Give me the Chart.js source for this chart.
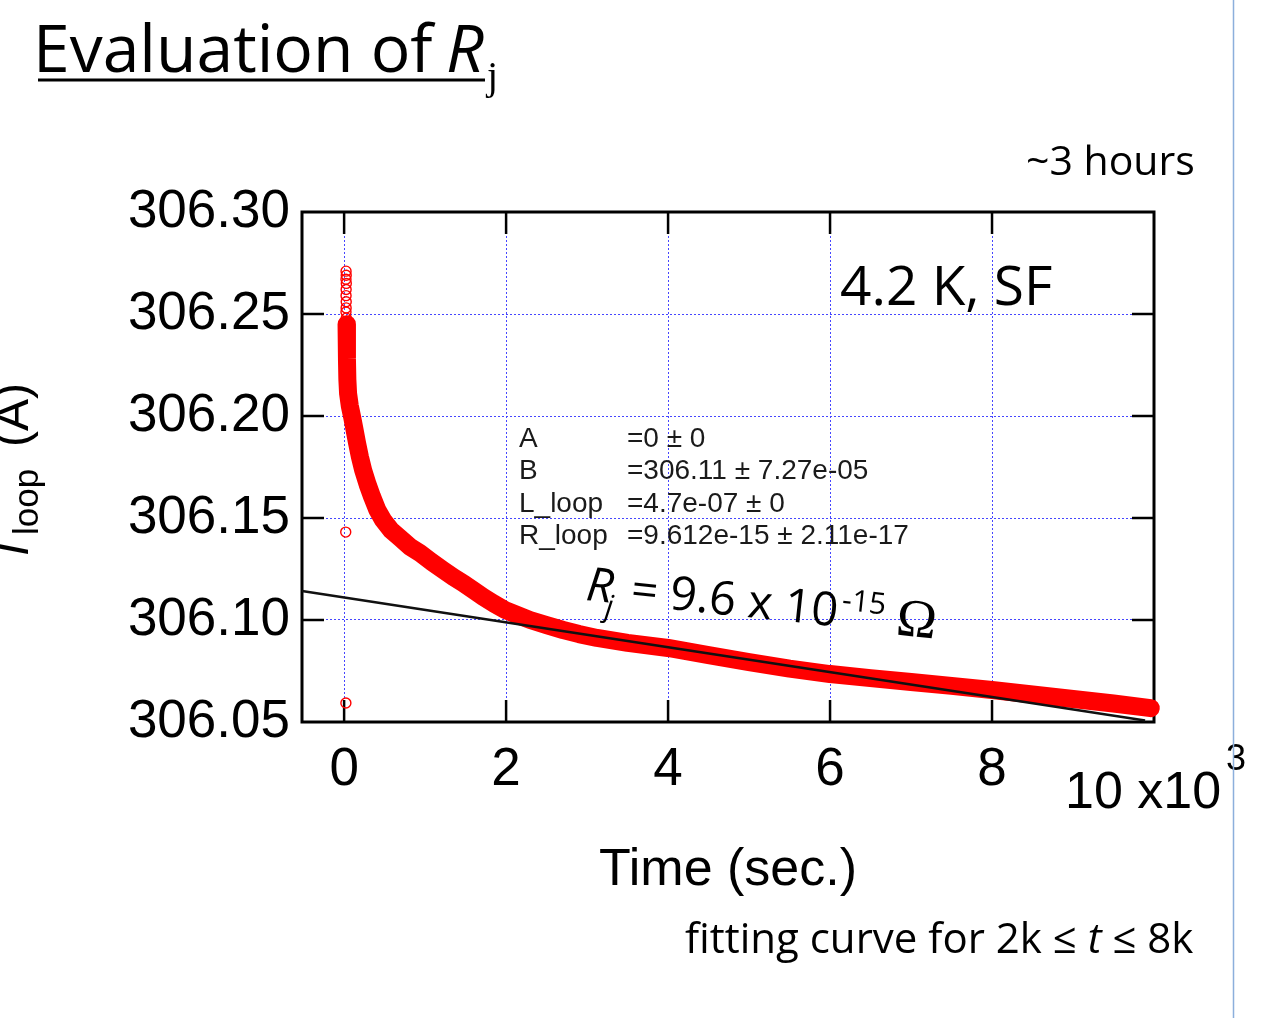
<!DOCTYPE html>
<html>
<head>
<meta charset="utf-8">
<script src="https://cdn.jsdelivr.net/npm/chart.js@4.4.1/dist/chart.umd.min.js"></script>
<style>
  html, body { margin: 0; padding: 0; background: #fff; }
  canvas { display: block; }
</style>
</head>
<body>
<canvas id="c" width="1261" height="1018"></canvas>
<script>
// ---------- data ----------
const timeSec = [30, 35, 40, 49, 70, 99, 130, 160, 195, 235, 290, 346, 410, 481, 580, 691, 810, 938, 1080, 1222, 1350, 1469, 1600, 1716, 1850, 1988, 2150, 2296, 2500, 2704, 2900, 3123, 3500, 4000, 4500, 5000, 5500, 6000, 6500, 7000, 7500, 8000, 8500, 9000, 9500, 9960];
const iLoop = [306.245, 306.228, 306.218, 306.211, 306.205, 306.1995, 306.193, 306.1867, 306.180, 306.1735, 306.1665, 306.1603, 306.154, 306.149, 306.144, 306.1402, 306.136, 306.1328, 306.1285, 306.1245, 306.121, 306.1181, 306.1145, 306.1113, 306.108, 306.1049, 306.1023, 306.1000, 306.0975, 306.0951, 306.0931, 306.0912, 306.0888, 306.0863, 306.0828, 306.0794, 306.0762, 306.0735, 306.0715, 306.0696, 306.0677, 306.0657, 306.0635, 306.0613, 306.0591, 306.0568];
const spikeT = [24, 26, 23, 27, 25, 24, 26, 25, 23, 27, 25, 24, 10, 12];
const spikeV = [306.271, 306.269, 306.267, 306.265, 306.262, 306.259, 306.256, 306.253, 306.251, 306.248, 306.246, 306.243, 306.236, 306.222];
const outlierT = [20, 22];
const outlierV = [306.1431, 306.0593];
const fitT = [-520, 9890];
const fitV = [306.1142, 306.0507];
const xTickValues = [0, 2000, 4000, 6000, 8000, 10000];
const xTickLabels = ['0', '2', '4', '6', '8', ''];
const yTickValues = [306.05, 306.10, 306.15, 306.20, 306.25, 306.30];
const yTickLabels = ['306.05', '306.10', '306.15', '306.20', '306.25', '306.30'];
const X_MIN = -520, X_MAX = 10000, Y_MIN = 306.05, Y_MAX = 306.30;
const fitParams = [
  ['A', '=0 \u00b1 0'],
  ['B', '=306.11 \u00b1 7.27e-05'],
  ['L_loop', '=4.7e-07 \u00b1 0'],
  ['R_loop', '=9.612e-15 \u00b1 2.11e-17']
];

// ---------- styling ----------
const SANS = '"Liberation Sans", Arial, sans-serif';
const SLIDE = '"Open Sans", sans-serif';
const SERIF = '"Liberation Serif", "DejaVu Serif", serif';
const GRID = 'rgb(70,70,255)';
const RED = '#ff0000';

const pts = (xs, ys) => xs.map((x, i) => ({ x: x, y: ys[i] }));

function put(ctx, s, x, y, font, color) {
  ctx.font = font;
  ctx.fillStyle = color || '#000';
  ctx.fillText(s, x, y);
  return ctx.measureText(s).width;
}

const deco = {
  id: 'deco',
  beforeDraw(chart) {
    const ctx = chart.ctx;
    ctx.save();
    ctx.fillStyle = '#fff';
    ctx.fillRect(0, 0, chart.width, chart.height);
    ctx.restore();
  },
  beforeDatasetsDraw(chart) {
    const { ctx, chartArea: a, scales: { x, y } } = chart;
    ctx.save();
    ctx.strokeStyle = '#000';
    ctx.lineWidth = 3;
    ctx.strokeRect(a.left, a.top, a.right - a.left, a.bottom - a.top);
    ctx.lineWidth = 2.5;
    const TL = 22;
    const line = (x1, y1, x2, y2) => { ctx.beginPath(); ctx.moveTo(x1, y1); ctx.lineTo(x2, y2); ctx.stroke(); };
    x.ticks.forEach(t => {
      if (t.value <= x.min || t.value >= x.max) return;
      const px = x.getPixelForValue(t.value);
      line(px, a.bottom, px, a.bottom - TL);
      line(px, a.top, px, a.top + TL);
    });
    y.ticks.forEach(t => {
      if (t.value <= y.min + 1e-9 || t.value >= y.max - 1e-9) return;
      const py = y.getPixelForValue(t.value);
      line(a.left, py, a.left + TL, py);
      line(a.right, py, a.right - TL, py);
    });
    ctx.restore();
  },
  afterDraw(chart) {
    const { ctx } = chart;
    ctx.save();
    ctx.textAlign = 'left';
    ctx.textBaseline = 'alphabetic';

    // slide title
    put(ctx, 'Evaluation of', 33, 72, '66px ' + SLIDE);
    put(ctx, 'R', 446, 72, 'italic 66px ' + SLIDE);
    put(ctx, 'j', 487, 89, '40px ' + SERIF);
    ctx.strokeStyle = '#000';
    ctx.lineWidth = 3;
    ctx.beginPath(); ctx.moveTo(38, 80); ctx.lineTo(485, 80); ctx.stroke();

    // notes
    put(ctx, '~3 hours', 1026, 175, '41px ' + SLIDE);
    put(ctx, '4.2 K, SF', 840, 305, '55px ' + SLIDE);
    let fx = 685;
    fx += put(ctx, 'fitting curve for 2k \u2264 ', fx, 953, '42px ' + SLIDE);
    fx += put(ctx, 't', fx, 953, 'italic 42px ' + SLIDE);
    put(ctx, ' \u2264 8k', fx, 953, '42px ' + SLIDE);

    // fit parameter box
    const rowsY = [447, 479, 512, 544];
    fitParams.forEach((r, i) => {
      put(ctx, r[0], 519, rowsY[i], '28px ' + SANS, '#1a1a1a');
      put(ctx, r[1], 627, rowsY[i], '28px ' + SANS, '#1a1a1a');
    });

    // R_j annotation (slightly tilted)
    ctx.save();
    ctx.translate(585, 600);
    ctx.rotate(6 * Math.PI / 180);
    put(ctx, 'R', 0, 0, 'italic 47px ' + SLIDE);
    put(ctx, 'j', 21, 14, 'italic 30px ' + SLIDE);
    put(ctx, '= 9.6 x 10', 45, 0, '47px ' + SLIDE);
    put(ctx, '-15', 256, -17, '30px ' + SLIDE);
    put(ctx, '\u03a9', 312, 2, '54px ' + SERIF);
    ctx.restore();

    // x axis multiplier
    put(ctx, '10 x10', 1065, 808, '52px ' + SANS);
    put(ctx, '3', 1226, 770, '36px ' + SANS);

    // y axis title (rotated)
    ctx.save();
    ctx.translate(28, 556);
    ctx.rotate(-Math.PI / 2);
    put(ctx, 'I', 0, 0, 'italic 48px ' + SANS);
    put(ctx, 'loop', 21, 10, '35px ' + SANS);
    put(ctx, '(A)', 109, 0, '48px ' + SANS);
    ctx.restore();

    // slide divider line
    ctx.strokeStyle = 'rgb(140,175,220)';
    ctx.lineWidth = 1.5;
    ctx.beginPath(); ctx.moveTo(1233.5, 0); ctx.lineTo(1233.5, chart.height); ctx.stroke();
    ctx.restore();
  }
};

new Chart(document.getElementById('c'), {
  type: 'scatter',
  data: {
    datasets: [
      {
        label: 'fit',
        data: pts(fitT, fitV),
        showLine: true,
        borderColor: '#111',
        borderWidth: 2.5,
        pointRadius: 0,
        order: 0,
        clip: false
      },
      {
        label: 'spike',
        data: pts(spikeT, spikeV).concat(pts(outlierT, outlierV)),
        showLine: false,
        pointStyle: 'circle',
        pointRadius: 5,
        borderColor: RED,
        borderWidth: 1.4,
        backgroundColor: 'rgba(255,255,255,0)',
        order: 1,
        clip: false
      },
      {
        label: 'I_loop',
        data: pts(timeSec, iLoop),
        showLine: true,
        borderColor: RED,
        borderWidth: 18,
        borderCapStyle: 'round',
        borderJoinStyle: 'round',
        pointRadius: 0,
        tension: 0,
        order: 2,
        clip: false
      }
    ]
  },
  options: {
    responsive: false,
    animation: false,
    devicePixelRatio: 1,
    layout: { padding: { left: 0, right: 107, top: 212, bottom: 0 } },
    plugins: { legend: { display: false }, tooltip: { enabled: false }, title: { display: false } },
    scales: {
      x: {
        type: 'linear',
        min: X_MIN,
        max: X_MAX,
        afterFit(s) { s.height = 296; },
        afterBuildTicks(s) { s.ticks = xTickValues.map(v => ({ value: v })); },
        ticks: {
          autoSkip: false,
          maxRotation: 0,
          padding: 17,
          color: '#000',
          font: { family: SANS, size: 53 },
          callback: (v, i) => xTickLabels[i]
        },
        grid: { color: GRID, lineWidth: 1, drawTicks: false },
        border: { display: false, dash: [2, 2] },
        title: {
          display: true,
          text: 'Time (sec.)',
          color: '#000',
          font: { family: SANS, size: 52 },
          padding: { top: 0, bottom: 116 }
        }
      },
      y: {
        type: 'linear',
        min: Y_MIN,
        max: Y_MAX,
        afterFit(s) { s.width = 302; },
        afterBuildTicks(s) { s.ticks = yTickValues.map(v => ({ value: v })); },
        ticks: {
          autoSkip: false,
          padding: 12,
          color: '#000',
          font: { family: SANS, size: 53 },
          callback: (v, i) => yTickLabels[i]
        },
        grid: { color: GRID, lineWidth: 1, drawTicks: false },
        border: { display: false, dash: [2, 2] }
      }
    }
  },
  plugins: [deco]
});
</script>
</body>
</html>
